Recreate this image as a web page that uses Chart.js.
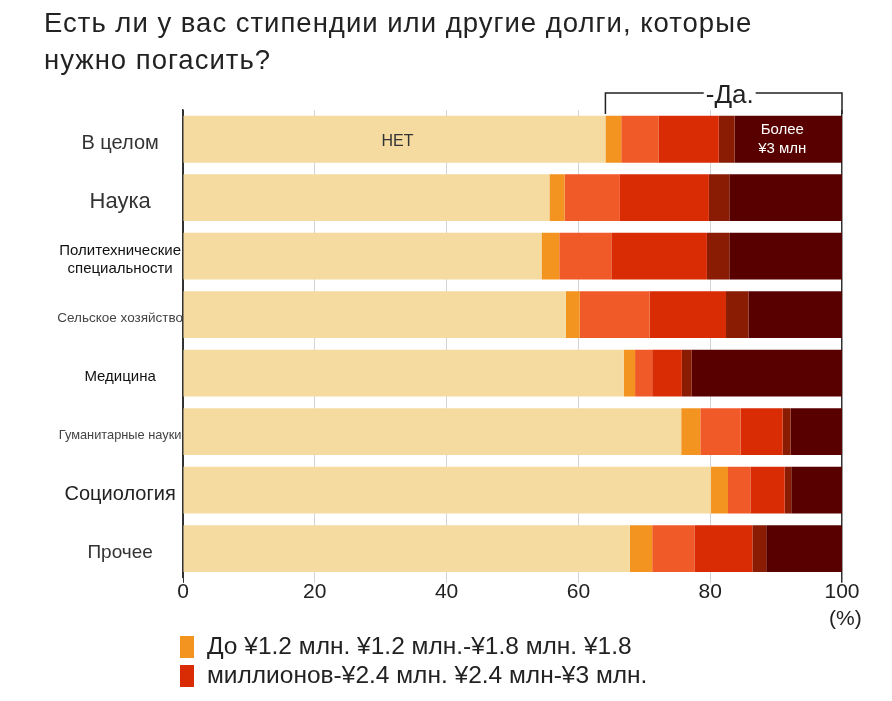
<!DOCTYPE html>
<html lang="ru">
<head>
<meta charset="utf-8">
<title>Стипендии и долги</title>
<script src="https://cdn.jsdelivr.net/npm/chart.js@4/dist/chart.umd.min.js"></script>
<style>
  body { margin: 0; background: #fff; font-family: "Liberation Sans", Arial, sans-serif; }
  .wrap { position: relative; width: 892px; height: 701px; overflow: hidden; }
  #myChart { position: absolute; left: 0; top: 0; }
  .title { position: absolute; left: 44px; top: 4px; font-size: 27.5px; line-height: 37px; letter-spacing: 1px; color: #222; }
  .unit { position: absolute; left: 829px; top: 606px; font-size: 21px; color: #222; }
  .legend { position: absolute; left: 180px; top: 631px; font-size: 24.5px; color: #222; }
  .legend div { height: 29px; line-height: 29px; white-space: nowrap; }
  .legend span { display: inline-block; width: 14px; height: 22px; margin-right: 13px; vertical-align: -4px; }
</style>
</head>
<body>
<div class="wrap">
  <canvas id="myChart" width="892" height="701"></canvas>
  <div class="title">Есть ли у вас стипендии или другие долги, которые<br>нужно погасить?</div>
  <div class="unit">(%)</div>
  <div class="legend">
    <div><span style="background:#f39420"></span>До ¥1.2 млн. ¥1.2 млн.-¥1.8 млн. ¥1.8</div>
    <div><span style="background:#d92c05"></span>миллионов-¥2.4 млн. ¥2.4 млн-¥3 млн.</div>
  </div>
</div>
<script>
const categories = [
  "В целом",
  "Наука",
  ["Политехнические", "специальности"],
  "Сельское хозяйство",
  "Медицина",
  "Гуманитарные науки",
  "Социология",
  "Прочее",
];
const seriesNames = [
  "Нет",
  "До ¥1.2 млн",
  "¥1.2–1.8 млн",
  "¥1.8–2.4 млн",
  "¥2.4–3 млн",
  "Более ¥3 млн",
];
const noDebt = [64.1, 55.6, 54.4, 58.1, 66.9, 75.6, 80.1, 67.8];
const upTo12 = [2.4, 2.3, 2.7, 2.1, 1.7, 2.9, 2.6, 3.4];
const from12to18 = [5.7, 8.4, 7.9, 10.6, 2.6, 6.1, 3.4, 6.4];
const from18to24 = [9.1, 13.5, 14.5, 11.6, 4.5, 6.4, 5.2, 8.8];
const from24to30 = [2.4, 3.1, 3.4, 3.4, 1.5, 1.2, 1.0, 2.1];
const over30 = [16.3, 17.1, 17.1, 14.2, 22.8, 7.8, 7.7, 11.5];
const xTicks = [0, 20, 40, 60, 80, 100];

const colors = ["#f5dba0", "#f39420", "#f05a28", "#d92c05", "#8a1c04", "#580000"];
const FONT = '"Liberation Sans", Arial, sans-serif';
// шрифты подписей категорий в оригинале разные
const labelFonts = [
  { family: FONT, size: 20 },
  { family: FONT, size: 22 },
  { family: FONT, size: 15 },
  { family: FONT, size: 13.5 },
  { family: FONT, size: 15 },
  { family: FONT, size: 12.8 },
  { family: FONT, size: 20 },
  { family: FONT, size: 19 },
];
const labelColors = ["#333", "#333", "#111", "#444", "#111", "#444", "#222", "#333"];

const barNotes = {
  id: "barNotes",
  afterDatasetsDraw: (chart) => {
    const ctx = chart.ctx;
    const area = chart.chartArea;
    const no = chart.getDatasetMeta(0).data[0];
    const first = chart.getDatasetMeta(1).data[0];
    const last = chart.getDatasetMeta(5).data[0];
    ctx.save();
    ctx.textAlign = "center";
    ctx.textBaseline = "middle";
    ctx.fillStyle = "#333";
    ctx.font = "16px " + FONT;
    ctx.fillText("НЕТ", (no.base + no.x) / 2 + 3, no.y + 2);
    ctx.fillStyle = "#fff";
    ctx.font = "15px " + FONT;
    const cx = (last.base + last.x) / 2;
    ctx.fillText("Более", cx - 6, last.y - 9);
    ctx.fillText("¥3 млн", cx - 6, last.y + 10);

    // скобка "Да"
    const left = first.base;
    const right = area.right;
    const top = area.top - 17;
    ctx.strokeStyle = "#222";
    ctx.lineWidth = 1.5;
    ctx.beginPath();
    ctx.moveTo(left, area.top + 4);
    ctx.lineTo(left, top);
    ctx.lineTo(right, top);
    ctx.lineTo(right, area.top + 4);
    ctx.stroke();
    ctx.font = "26px " + FONT;
    const text = "-Да.";
    const w = ctx.measureText(text).width;
    const tx = (left + right) / 2 + 6;
    ctx.fillStyle = "#fff";
    ctx.fillRect(tx - w / 2 - 2, top - 12, w + 4, 22);
    ctx.fillStyle = "#222";
    ctx.textBaseline = "alphabetic";
    ctx.fillText(text, tx, top + 10);
    ctx.restore();
  },
};

const main = () => {
  const data = [noDebt, upTo12, from12to18, from18to24, from24to30, over30];
  new Chart(document.querySelector("#myChart"), {
    type: "bar",
    data: {
      labels: categories,
      datasets: data.map((values, i) => ({
        label: seriesNames[i],
        data: values,
        backgroundColor: colors[i],
        borderWidth: 0,
        categoryPercentage: 0.8,
        barPercentage: 1,
      })),
    },
    options: {
      indexAxis: "y",
      responsive: false,
      animation: false,
      layout: { padding: { top: 110, right: 50, bottom: 99, left: 0 } },
      plugins: {
        legend: { display: false },
        tooltip: { enabled: false },
      },
      scales: {
        x: {
          stacked: true,
          min: 0,
          max: 100,
          afterBuildTicks: (scale) => {
            scale.ticks = xTicks.map((value) => ({ value }));
          },
          border: { display: false },
          grid: {
            color: (c) => (c.tick && (c.tick.value === 0 || c.tick.value === 100) ? "#333" : "#d4d4d4"),
            lineWidth: (c) => (c.tick && c.tick.value === 100 ? 1.5 : 1),
            tickLength: 5,
          },
          ticks: {
            padding: -3,
            color: "#222",
            font: { family: FONT, size: 21 },
          },
        },
        y: {
          stacked: true,
          afterFit: (scale) => {
            scale.width = 183;
          },
          border: { display: true, color: "#333", width: 1.5 },
          grid: { display: false, drawTicks: false },
          ticks: {
            crossAlign: "center",
            padding: 0,
            labelOffset: 4,
            color: (c) => labelColors[c.index],
            font: (c) => labelFonts[c.index],
          },
        },
      },
    },
    plugins: [barNotes],
  });
};

main();
</script>
</body>
</html>
